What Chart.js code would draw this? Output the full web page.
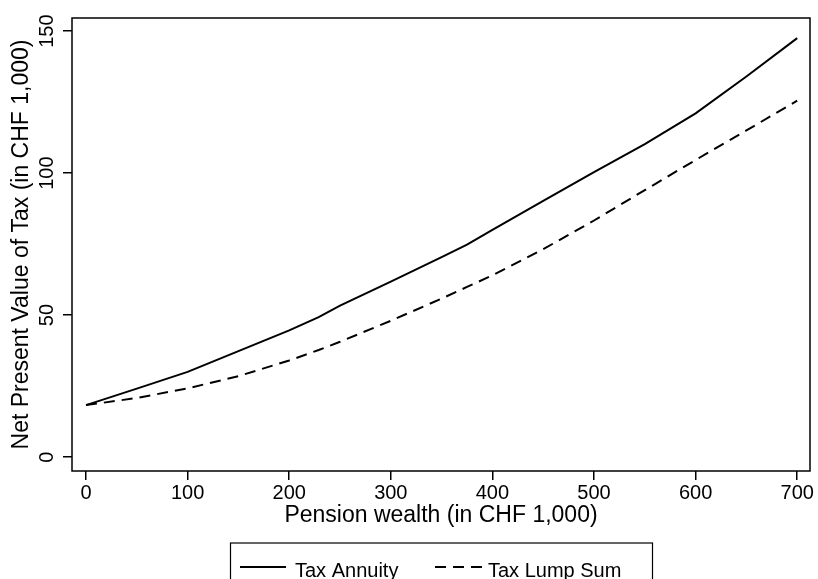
<!DOCTYPE html>
<html>
<head>
<meta charset="utf-8">
<script src="https://cdn.jsdelivr.net/npm/chart.js@4.4.0/dist/chart.umd.min.js"></script>
<style>
  html, body { margin: 0; padding: 0; background: #fff; }
  #wrap { width: 818px; height: 579px; }
</style>
</head>
<body>
<div id="wrap"><canvas id="npvChart" width="818" height="579"></canvas></div>
<script>
// pension wealth (CHF 1,000) and net present value of tax
const wealth = [0, 50, 100, 150, 200, 229, 250, 300, 350, 375, 400, 450, 500, 550, 600, 650, 700];
const taxAnnuity = [18.3, 24.1, 30.0, 37.3, 44.6, 49.3, 53.3, 61.8, 70.4, 74.8, 80.0, 90.2, 100.3, 110.2, 121.0, 134.0, 147.5];
const taxLumpSum = [18.3, 20.8, 24.2, 28.5, 34.0, 37.7, 40.6, 48.0, 55.8, 59.9, 64.0, 73.2, 83.3, 94.0, 104.6, 115.0, 125.5];
const xTicks = [0, 100, 200, 300, 400, 500, 600, 700];
const yTicks = [0, 50, 100, 150];

const FONT = '"Liberation Sans", Arial, Helvetica, sans-serif';

function toPoints(xs, ys) {
    return xs.map((x, i) => ({ x: x, y: ys[i] }));
}

// cadre complet autour de la zone du graphique
const boxPlugin = {
    id: 'plotBox',
    afterDraw(chart) {
        const a = chart.chartArea;
        const ctx = chart.ctx;
        ctx.save();
        ctx.strokeStyle = '#000';
        ctx.lineWidth = 1.5;
        ctx.strokeRect(a.left, a.top, a.right - a.left, a.bottom - a.top);
        ctx.restore();
    }
};

// légende encadrée en bas (style Stata)
const legendPlugin = {
    id: 'boxLegend',
    afterDraw(chart) {
        const ctx = chart.ctx;
        const sets = chart.data.datasets;
        const items = [
            { x0: 240, x1: 286, tx: 295 },
            { x0: 435, x1: 484, tx: 488 }
        ];
        ctx.save();
        ctx.strokeStyle = '#000';
        ctx.lineWidth = 1.2;
        ctx.strokeRect(230.5, 543, 422, 60);
        ctx.font = '20px ' + FONT;
        ctx.fillStyle = '#000';
        ctx.textBaseline = 'alphabetic';
        sets.forEach((ds, i) => {
            const it = items[i];
            ctx.beginPath();
            ctx.setLineDash(ds.borderDash || []);
            ctx.lineWidth = ds.borderWidth;
            ctx.moveTo(it.x0, 567);
            ctx.lineTo(it.x1, 567);
            ctx.stroke();
            ctx.setLineDash([]);
            ctx.fillText(ds.label, it.tx, 577);
        });
        ctx.restore();
    }
};

document.addEventListener('DOMContentLoaded', function () {
    const ctx = document.getElementById('npvChart').getContext('2d');
    new Chart(ctx, {
        type: 'line',
        data: {
            datasets: [
                {
                    label: 'Tax Annuity',
                    data: toPoints(wealth, taxAnnuity),
                    borderColor: '#000',
                    borderWidth: 2,
                    pointRadius: 0,
                    tension: 0,
                    fill: false
                },
                {
                    label: 'Tax Lump Sum',
                    data: toPoints(wealth, taxLumpSum),
                    borderColor: '#000',
                    borderWidth: 2,
                    borderDash: [11, 7],
                    pointRadius: 0,
                    tension: 0,
                    fill: false
                }
            ]
        },
        options: {
            responsive: false,
            animation: false,
            layout: { padding: { top: 18, right: 8, left: 0, bottom: 39 } },
            plugins: {
                legend: { display: false },
                tooltip: { enabled: false }
            },
            scales: {
                x: {
                    type: 'linear',
                    min: -13.8,
                    max: 712.6,
                    afterBuildTicks: (s) => { s.ticks = xTicks.map(v => ({ value: v })); },
                    afterFit: (s) => { s.height = 69; },
                    border: { display: false },
                    grid: { drawOnChartArea: false, drawTicks: true, tickLength: 9, color: '#000', lineWidth: 1.5 },
                    ticks: {
                        color: '#000',
                        padding: 1,
                        maxRotation: 0,
                        autoSkip: false,
                        font: { family: FONT, size: 20, lineHeight: 1.2 }
                    },
                    title: {
                        display: true,
                        text: 'Pension wealth (in CHF 1,000)',
                        color: '#000',
                        font: { family: FONT, size: 23, lineHeight: 1 },
                        padding: { top: 0, bottom: 13 }
                    }
                },
                y: {
                    type: 'linear',
                    min: -4.9,
                    max: 154.6,
                    afterBuildTicks: (s) => { s.ticks = yTicks.map(v => ({ value: v })); },
                    afterFit: (s) => { s.width = 72; },
                    border: { display: false },
                    grid: { drawOnChartArea: false, drawTicks: true, tickLength: 9, color: '#000', lineWidth: 1.5 },
                    ticks: {
                        color: '#000',
                        padding: -1,
                        minRotation: 90,
                        maxRotation: 90,
                        crossAlign: 'center',
                        autoSkip: false,
                        font: { family: FONT, size: 20, lineHeight: 1.2 }
                    },
                    title: {
                        display: true,
                        text: 'Net Present Value of Tax (in CHF 1,000)',
                        color: '#000',
                        font: { family: FONT, size: 23, lineHeight: 1 },
                        padding: { top: 10.5, bottom: 0 }
                    }
                }
            }
        },
        plugins: [boxPlugin, legendPlugin]
    });
});
</script>
</body>
</html>
